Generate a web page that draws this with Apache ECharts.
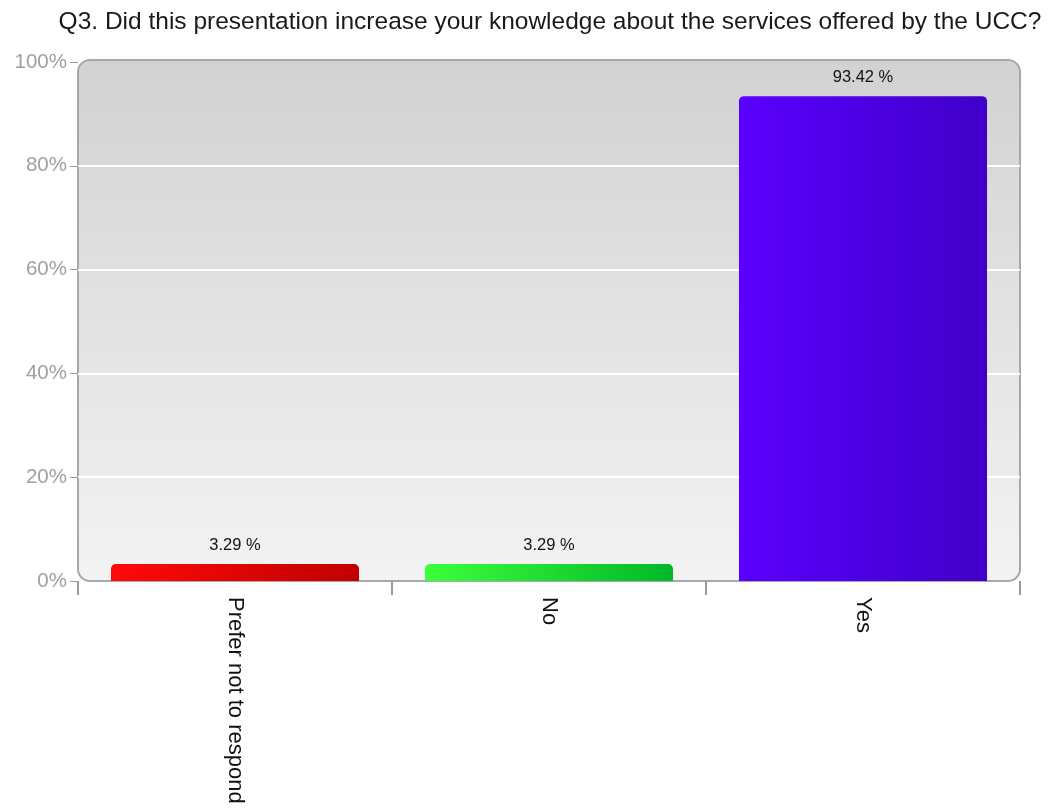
<!DOCTYPE html>
<html>
<head>
<meta charset="utf-8">
<script src="https://cdn.jsdelivr.net/npm/echarts@6/dist/echarts.min.js"></script>
<style>
  html, body { margin: 0; padding: 0; background: #ffffff; }
  #chart { width: 1050px; height: 810px; }
</style>
</head>
<body>
<div id="chart"></div>
<script>
// Survey answers and their shares (percent of respondents)
const categories = ['Prefer not to respond', 'No', 'Yes'];
const shares = [3.29, 3.29, 93.42];
const yTicks = [0, 20, 40, 60, 80, 100];
const titleText = 'Q3. Did this presentation increase your knowledge about the services offered by the UCC?';

// Horizontal shading for each bar: light edge on the left, darker on the right
const barShades = [
  ['#ff0a0a', '#c00000'],
  ['#3cff3c', '#00b828'],
  ['#5a00ff', '#4000c8']
];

function hGrad(c0, c1) {
  return new echarts.graphic.LinearGradient(0, 0, 1, 0, [
    { offset: 0, color: c0 },
    { offset: 1, color: c1 }
  ]);
}

const font = 'Arial, Liberation Sans, sans-serif';
const grid = { left: 78, right: 30, top: 62, bottom: 229 };

const chart = echarts.init(document.getElementById('chart'));
chart.setOption({
  animation: false,
  title: {
    text: titleText,
    left: 545,
    textAlign: 'center',
    top: 5,
    textStyle: { fontFamily: font, fontSize: 24.5, fontWeight: 'normal', color: '#1a1a1a' }
  },
  grid: grid,
  graphic: [{
    type: 'rect',
    z: -10,
    silent: true,
    shape: { x: grid.left, y: grid.top - 2, width: 1050 - grid.left - grid.right, height: 810 - grid.top - grid.bottom + 2, r: 12 },
    style: {
      fill: new echarts.graphic.LinearGradient(0, 0, 0, 1, [
        { offset: 0, color: '#d2d2d2' },
        { offset: 1, color: '#f3f3f3' }
      ]),
      stroke: '#a8a8a8',
      lineWidth: 2
    }
  }],
  xAxis: {
    type: 'category',
    data: categories,
    axisLine: { show: false },
    axisTick: { show: true, alignWithLabel: false, length: 14, lineStyle: { color: '#999', width: 2 } },
    axisLabel: {
      rotate: -90,
      margin: 16,
      fontFamily: font,
      fontSize: 22,
      color: '#111'
    }
  },
  yAxis: {
    type: 'value',
    min: 0,
    max: 100,
    interval: 20,
    axisLine: { show: false },
    axisTick: { show: true, length: 8, lineStyle: { color: '#999' } },
    axisLabel: {
      formatter: v => yTicks.includes(v) ? v + '%' : '',
      fontFamily: font,
      fontSize: 20.5,
      color: '#a0a0a0',
      margin: 11
    },
    splitLine: {
      show: true,
      lineStyle: { color: ['transparent', '#ffffff', '#ffffff', '#ffffff', '#ffffff', 'transparent'], width: 2 }
    }
  },
  series: [{
    type: 'bar',
    barWidth: '79%',
    data: shares.map((v, i) => ({
      value: v,
      itemStyle: { color: hGrad(barShades[i][0], barShades[i][1]), borderRadius: [5, 5, 0, 0] }
    })),
    label: {
      show: true,
      position: 'top',
      distance: 10,
      formatter: p => p.value.toFixed(2) + ' %',
      fontFamily: font,
      fontSize: 16.5,
      fontWeight: 500,
      color: '#111'
    }
  }]
});
</script>
</body>
</html>
